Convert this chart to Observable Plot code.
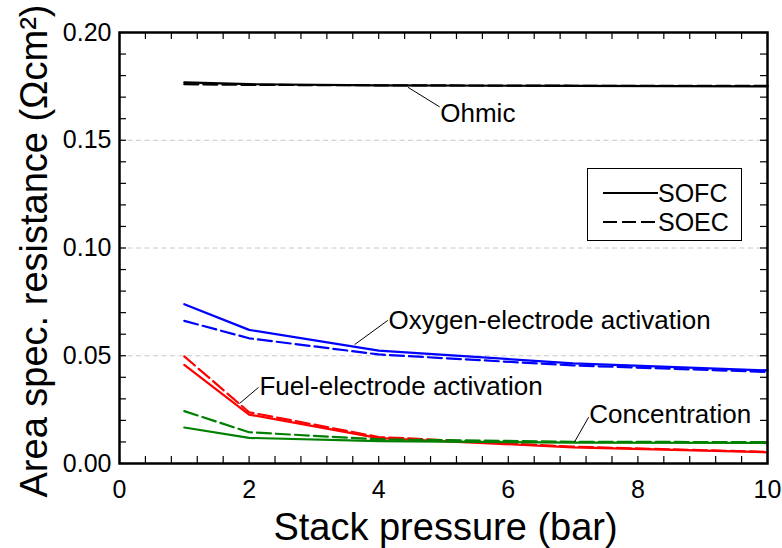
<!DOCTYPE html>
<html><head><meta charset="utf-8">
<script src="https://cdn.jsdelivr.net/npm/d3@7"></script>
<script src="https://cdn.jsdelivr.net/npm/@observablehq/plot@0.6"></script>
<style>
body{margin:0;background:#fff;}
#wrap{position:relative;width:782px;height:548px;font-family:Arial,"Liberation Sans",sans-serif;}
#legend{position:absolute;left:587px;top:168px;width:155px;height:73px;border:1px solid #000;box-sizing:border-box;background:#fff}
#legend svg{position:absolute;left:0;top:0}
</style></head><body><div id="wrap"></div>
<script>
// ---- data ----
const pressure = [1, 2, 4, 7, 10];
const ohmicSOFC = [0.1769, 0.1760, 0.1755, 0.1752, 0.1750];
const ohmicSOEC = [0.1760, 0.1757, 0.1755, 0.1753, 0.1752];
const oxygenSOFC = [0.0739, 0.0620, 0.0524, 0.0465, 0.0432];
const oxygenSOEC = [0.0662, 0.0581, 0.0506, 0.0455, 0.0425];
const fuelSOFC = [0.0458, 0.0227, 0.0118, 0.0075, 0.0052];
const fuelSOEC = [0.0497, 0.0238, 0.0123, 0.0078, 0.0054];
const concSOFC = [0.0167, 0.0119, 0.0104, 0.0097, 0.0095];
const concSOEC = [0.0243, 0.0145, 0.0112, 0.0101, 0.0099];
const xTicks = [0, 2, 4, 6, 8, 10];
const yTicks = [0, 0.05, 0.10, 0.15, 0.20];
const gridValues = [0.05, 0.10, 0.15];
const labels = ["Ohmic", "Oxygen-electrode activation", "Fuel-electrode activation", "Concentration"];
const legendLabels = ["SOFC", "SOEC"];

// ---- build ----
const toRows = vals => pressure.map((p, i) => ({p, v: vals[i]}));
const series = [
  {vals: ohmicSOFC, color: "#000000", dash: null},
  {vals: ohmicSOEC, color: "#000000", dash: "14,5"},
  {vals: oxygenSOFC, color: "#0000ff", dash: null},
  {vals: oxygenSOEC, color: "#0000ff", dash: "14,5"},
  {vals: fuelSOFC, color: "#ff0000", dash: null},
  {vals: fuelSOEC, color: "#ff0000", dash: "14,5"},
  {vals: concSOFC, color: "#008000", dash: null},
  {vals: concSOEC, color: "#008000", dash: "14,5"}
];
// annotation leader lines (data units)
const annotations = [
  {label: labels[0], x1: 4.45, y1: 0.1746, x2: 4.94, y2: 0.1655, tx: 4.95, ty: 0.1624},
  {label: labels[1], x1: 3.63, y1: 0.0552, x2: 4.14, y2: 0.0664, tx: 4.15, ty: 0.0664},
  {label: labels[2], x1: 1.85, y1: 0.0278, x2: 2.145, y2: 0.0353, tx: 2.16, ty: 0.0356},
  {label: labels[3], x1: 7.02, y1: 0.0099, x2: 7.24, y2: 0.0215, tx: 7.25, ty: 0.0227}
];
const xMinor = d3.range(0, 10.0001, 0.4);
const yMinor = d3.range(0, 0.20001, 0.01);
const tx = 0.108, ty = 0.00325;

const marks = [
  Plot.ruleY(gridValues, {stroke: "#c8c8c8", strokeDasharray: "5,3.5", strokeWidth: 1}),
  Plot.ruleX(xMinor, {y1: 0, y2: ty, strokeWidth: 1.2}),
  Plot.ruleX(xMinor, {y1: 0.2 - ty, y2: 0.2, strokeWidth: 1.2}),
  Plot.ruleY(yMinor, {x1: 0, x2: tx, strokeWidth: 1.2}),
  Plot.ruleY(yMinor, {x1: 10 - tx, x2: 10, strokeWidth: 1.2}),
  ...series.map(s => Plot.line(toRows(s.vals), {x: "p", y: "v", stroke: s.color, strokeWidth: 2.2, strokeDasharray: s.dash})),
  Plot.link(annotations, {x1: "x1", y1: "y1", x2: "x2", y2: "y2", stroke: "black", strokeWidth: 1}),
  Plot.text(annotations, {x: "tx", y: "ty", text: "label", textAnchor: "start", lineAnchor: "middle", fontSize: 26, fill: "black"}),
  Plot.axisX({ticks: xTicks, tickSize: 0, tickPadding: 17, fontSize: 25, label: null, tickFormat: d => String(d)}),
  Plot.axisY({ticks: yTicks, tickSize: 0, tickPadding: 8, fontSize: 25, label: null, tickFormat: d3.format(".2f")}),
  Plot.text(["Stack pressure (bar)"], {frameAnchor: "bottom", textAnchor: "middle", dx: 2, dy: 76, lineAnchor: "bottom", fontSize: 38, fill: "black"}),
  Plot.text(["Area spec. resistance (Ωcm²)"], {frameAnchor: "left", textAnchor: "middle", dx: -73, dy: 3, rotate: -90, lineAnchor: "bottom", fontSize: 38, fill: "black"}),
  Plot.frame({stroke: "black", strokeWidth: 2.5})
];

const chart = Plot.plot({
  width: 782, height: 548,
  marginLeft: 119, marginRight: 15, marginTop: 32, marginBottom: 85,
  x: {domain: [0, 10]},
  y: {domain: [0, 0.2]},
  style: {fontFamily: "Arial, 'Liberation Sans', sans-serif", fontSize: "25px", color: "black", background: "white", overflow: "visible"},
  marks
});
const wrap = document.getElementById("wrap");
wrap.appendChild(chart);

// legend (inside plot area, top-right)
const leg = document.createElement("div");
leg.id = "legend";
const ns = "http://www.w3.org/2000/svg";
const svg = document.createElementNS(ns, "svg");
svg.setAttribute("width", 155); svg.setAttribute("height", 73);
legendLabels.forEach((lab, i) => {
  const y = 24 + i * 29;
  const line = document.createElementNS(ns, "line");
  line.setAttribute("x1", 15); line.setAttribute("x2", 70);
  line.setAttribute("y1", y); line.setAttribute("y2", y);
  line.setAttribute("stroke", "black"); line.setAttribute("stroke-width", 2);
  if (i === 1) line.setAttribute("stroke-dasharray", "14,5");
  svg.appendChild(line);
  const t = document.createElementNS(ns, "text");
  t.setAttribute("x", 70); t.setAttribute("y", y); t.setAttribute("dy", "0.35em");
  t.setAttribute("font-size", 25); t.setAttribute("font-family", "Arial, 'Liberation Sans', sans-serif");
  t.textContent = lab;
  svg.appendChild(t);
});
leg.appendChild(svg);
wrap.appendChild(leg);
</script>
</body></html>
